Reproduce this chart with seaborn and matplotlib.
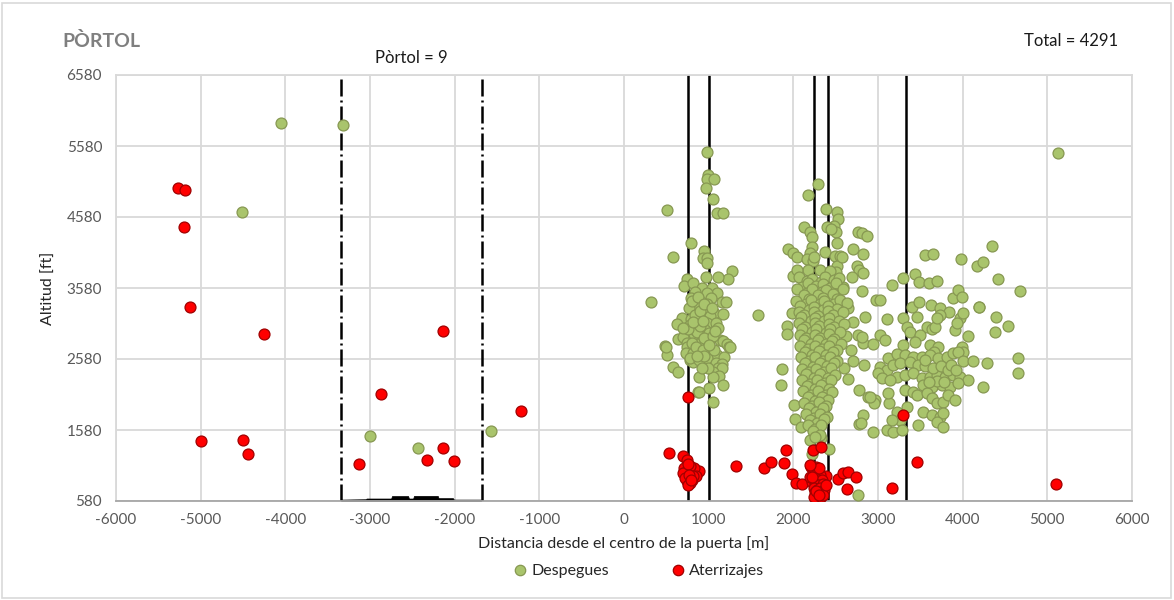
import matplotlib
matplotlib.use("Agg")
import matplotlib.pyplot as plt
import matplotlib.transforms as mtransforms
from matplotlib.lines import Line2D
from matplotlib.patches import Rectangle
import pandas as pd
import seaborn as sns

# ---------------- data ----------------
title = "PÒRTOL"
total_label = "Total = 4291"
zone_label = "Pòrtol = 9"
categories = ["Despegues", "Aterrizajes"]
x_ticks = list(range(-6000, 6001, 1000))
y_ticks = [580, 1580, 2580, 3580, 4580, 5580, 6580]

# take-offs: isolated points
desp_out_x = [-4050, -3320, -4510, -3000, -2430, -1570, 5130, 320, 1580]
desp_out_y = [5900, 5880, 4650, 1500, 1330, 1570, 5480, 3380, 3200]

# take-offs: cluster around 0.75-1.0 km
desp_a_x = [977, 995, 984, 1063, 969, 1055, 1102, 1165, 511, 791, 583, 945, 929, 984, 984, 1272, 1225, 1107,
            969, 748, 709, 819, 917, 1036, 1095, 839, 788, 977, 1028, 1153, 1205, 859, 772, 977, 957, 1067,
            1173, 689, 788, 878, 1016, 622, 780, 977, 1087, 1107, 957, 898, 772, 642, 701, 1004, 831, 1008,
            1134, 1165, 748, 870, 1221, 1244, 484, 511, 748, 988, 859, 732, 819, 929, 1016, 1102, 1185, 977,
            780, 819, 1087, 1153, 1114, 1153, 583, 642, 1047, 1126, 890, 1047, 1165, 878, 1008, 1047, 492,
            1252, 886, 820, 860, 900, 940, 800, 850, 930, 780, 880, 950, 840, 900, 800, 870, 950, 1040, 1050,
            1060, 990, 920, 760, 810, 1000, 1070, 700, 930, 860]
desp_a_y = [5490, 5170, 5114, 5114, 4983, 4832, 4640, 4640, 4677, 4208, 4020, 4100, 3997, 3997, 3927, 3818, 3706, 3738,
            3730, 3710, 3612, 3645, 3583, 3574, 3513, 3527, 3443, 3505, 3434, 3378, 3378, 3340, 3302, 3349, 3245, 3231,
            3213, 3152, 3143, 3129, 3185, 3068, 3058, 3090, 3082, 3012, 2988, 2917, 2903, 2861, 2893, 2950, 2931, 2847,
            2847, 2833, 2809, 2791, 2786, 2753, 2763, 2636, 2753, 2739, 2697, 2660, 2668, 2682, 2668, 2636, 2603, 2589,
            2565, 2541, 2527, 2509, 2448, 2448, 2471, 2400, 2400, 2340, 2330, 2321, 2213, 2119, 2167, 1978, 2753,
            2753, 2110, 3000, 2960, 3050, 2880, 2800, 2750, 2700, 2600, 2560, 2620, 3200, 3250, 3400, 3450, 3350, 3300, 2900,
            2700, 2450, 2450, 3000, 3100, 2780, 2980, 3020, 3120, 2620]

# take-offs: cluster around 2.0-2.6 km (outer points)
desp_b_x = [2288, 2177, 2386, 2512, 2524, 2484, 2504, 2512, 2130, 2197, 2217, 2394, 2445, 2760, 2815, 2866,
            1940, 1992, 2047, 2217, 2197, 2374, 2709, 2827, 2158, 2236, 2492, 2551, 2520, 2504, 2748, 2776,
            2177, 2315, 2433, 2000, 2047, 2689, 2827, 2807, 2976, 1980, 1928, 1928, 1869, 1859, 2008, 2020,
            2091, 2197, 2217, 2331, 2421, 2772, 2827, 2772, 2942, 2886, 2965, 2835, 2760, 2768, 2827, 2945,
            2846, 2807, 2799, 2953, 3102, 3134, 2571, 2248, 2650, 2700, 2620, 2680, 2600, 2650, 2700, 2590]
desp_b_y = [5043, 4888, 4691, 4645, 4546, 4452, 4372, 4217, 4433, 4372, 4302, 4443, 4410, 4372, 4349, 4316,
            4124, 4068, 4011, 4161, 4076, 4090, 4124, 4058, 3983, 3964, 4030, 4030, 3889, 3808, 3889, 3832,
            3832, 3832, 3818, 3748, 3832, 3738, 3795, 3541, 3414, 3223, 3044, 2927, 2435, 2213, 1932, 1730,
            1618, 1439, 1242, 1462, 1308, 2143, 1791, 1660, 1556, 2049, 2002, 2494, 664, 2917, 2800, 2791,
            3166, 2893, 1674, 1955, 1580, 1955, 4020, 4011, 3300, 3100, 2900, 2700, 2450, 2300, 2550, 3600]

# take-offs: dense core of the 2.0-2.6 km cluster
desp_core_x = [2072, 2161, 2219, 2326, 2378, 2477, 2541,
               2101, 2179, 2268, 2349, 2437, 2506,
               2047, 2166, 2226, 2337, 2389, 2496, 2585,
               2124, 2187, 2295, 2346, 2465, 2515,
               2031, 2145, 2207, 2314, 2366, 2485, 2546, 2634,
               2079, 2183, 2249, 2354, 2407, 2515,
               2063, 2126, 2245, 2296, 2405, 2465, 2584,
               2088, 2204, 2256, 2365, 2426, 2534,
               2071, 2136, 2254, 2307, 2424, 2476, 2595,
               2099, 2215, 2267, 2384, 2436, 2554,
               2082, 2146, 2254, 2316, 2425, 2486,
               2122, 2210, 2290, 2380, 2460, 2560,
               2078, 2170, 2250, 2340, 2420, 2510,
               2132, 2220, 2300, 2390, 2470,
               2088, 2180, 2260, 2350, 2430, 2520,
               2142, 2230, 2310, 2400, 2480,
               2098, 2190, 2270, 2360, 2440,
               2152, 2240, 2320, 2410, 2490,
               2108, 2200, 2280, 2370, 2450,
               2162, 2250, 2330, 2420,
               2118, 2210, 2290, 2380, 2460,
               2172, 2260, 2340, 2410,
               2128, 2220, 2300, 2390,
               2182, 2270, 2350,
               2148, 2240, 2320, 2400,
               2202, 2280, 2360,
               2168, 2250, 2330,
               2232, 2310,
               2258]
desp_core_y = [3732, 3682, 3705, 3668, 3738, 3690, 3720,
               3598, 3652, 3612, 3640, 3585, 3645,
               3565, 3510, 3572, 3518, 3556, 3502, 3560,
               3488, 3432, 3475, 3440, 3492, 3428,
               3402, 3352, 3410, 3360, 3395, 3348, 3405, 3362,
               3322, 3276, 3318, 3270, 3325, 3282,
               3240, 3196, 3245, 3192, 3250, 3200, 3238,
               3165, 3112, 3160, 3118, 3158, 3110,
               3082, 3035, 3085, 3038, 3078, 3030, 3075,
               3005, 2955, 3002, 2950, 3008, 2958,
               2925, 2872, 2922, 2878, 2930, 2868,
               2845, 2795, 2842, 2792, 2840, 2798,
               2765, 2715, 2762, 2718, 2768, 2712,
               2685, 2632, 2688, 2638, 2680,
               2605, 2555, 2602, 2552, 2608, 2558,
               2525, 2472, 2528, 2478, 2520,
               2445, 2392, 2442, 2398, 2448,
               2365, 2312, 2368, 2318, 2360,
               2285, 2232, 2288, 2238, 2282,
               2205, 2152, 2208, 2158,
               2125, 2072, 2128, 2078, 2120,
               2045, 1992, 2048, 1998,
               1965, 1912, 1968, 1918,
               1885, 1832, 1888,
               1805, 1752, 1808, 1758,
               1725, 1672, 1728,
               1645, 1592, 1648,
               1565, 1512,
               1482]

# take-offs: cluster around 3-4.7 km
desp_c_x = [4343, 3980, 4165, 4236, 3555, 3646, 4421, 4677, 3299, 3437, 3488, 3606, 3701, 3169, 3024, 3405,
            3488, 3622, 3732, 3838, 3882, 3948, 3988, 3969, 4008, 4196, 4393, 4531, 4381, 3110, 3299, 3457,
            3575, 3634, 3673, 3339, 3378, 3496, 3732, 3693, 3909, 3929, 4067, 3024, 3083, 3291, 3437, 3614,
            3712, 3661, 3988, 4008, 3122, 3221, 3319, 3417, 3516, 3614, 3712, 3811, 3890, 3948, 4008, 4118,
            4283, 4656, 4656, 3024, 3102, 3181, 3260, 3378, 3476, 3555, 3221, 3319, 3417, 3516, 3614, 3693,
            3791, 3890, 3969, 4059, 3535, 3634, 3752, 3850, 3948, 3004, 3043, 3142, 3319, 3417, 3457, 2906,
            3122, 3575, 3634, 3693, 3764, 3830, 3909, 4236, 3535, 3634, 3732, 3771, 3221, 3260, 3161, 3339,
            3181, 3280, 3476, 3693, 3764, 4193, 3560, 3650, 3740, 3830, 3700, 3600, 3780, 3860, 3920]
desp_c_y = [4174, 3988, 3893, 3941, 4044, 4058, 3702, 3541, 3726, 3772, 3659, 3645, 3678, 3621, 3414, 3307,
            3378, 3340, 3293, 3237, 3439, 3551, 3449, 3152, 3223, 3316, 3166, 3048, 2955, 3143, 3152, 3166,
            3035, 2997, 3026, 3035, 2964, 2917, 3199, 3152, 2988, 3082, 2903, 2917, 2847, 2777, 2823, 2777,
            2753, 2683, 2753, 2683, 2589, 2650, 2636, 2612, 2612, 2636, 2589, 2612, 2660, 2683, 2555, 2555,
            2527, 2589, 2378, 2462, 2424, 2494, 2518, 2541, 2494, 2481, 2330, 2354, 2378, 2307, 2330, 2354,
            2330, 2354, 2330, 2284, 2213, 2189, 2213, 2189, 2236, 2378, 2307, 2284, 2143, 2119, 2073, 2049,
            2096, 2096, 2026, 1955, 1978, 2073, 2002, 2189, 1837, 1791, 1767, 1814, 1837, 1720, 1720, 1908,
            1556, 1580, 1650, 1697, 1627, 3307, 2560, 2450, 2480, 2420, 2270, 2250, 2250, 2500, 2420]

# landings
aterr_x = [-5268, -5185, -5197, -5126, -4252, -4996, -4500, -4441, -2870, -3130, -2327, -2138, -2008, -2138,
           -1216, 5102, 3165, 3295, 3460, 756, 1323, 1653, 1736, 1890, 1913, 1984, 2031, 2102, 2232, 2327,
           2268, 2386, 2527, 2586, 2646, 2740, 2634,
           531, 697, 744, 710, 740, 770, 800, 820, 760, 790, 730, 760, 800, 850, 880, 830, 780, 700, 760,
           850, 740, 780, 720, 810, 760, 770, 790,
           2210, 2240, 2280, 2320, 2250, 2290, 2340, 2220, 2260, 2300, 2350, 2240, 2280, 2320, 2360, 2250,
           2290, 2330, 2270, 2310, 2350, 2240, 2380, 2200, 2300, 2197, 2217, 2270, 2300]
aterr_y = [4988, 4960, 4439, 3312, 2932, 1425, 1440, 1242, 2087, 1101, 1157, 1326, 1143, 2975,
           1847, 819, 763, 1791, 1129, 2044, 1073, 1045, 1129, 1115, 1298, 960, 833, 820, 1298, 1340,
           1059, 932, 890, 974, 988, 918, 749,
           1256, 1213, 1160, 1050, 1000, 980, 1020, 960, 920, 900, 940, 870, 870, 960, 1000, 1050, 1070, 980, 1100,
           930, 860, 840, 900, 930, 810, 950, 880,
           1060, 1000, 960, 940, 900, 870, 880, 850, 820, 800, 820, 760, 740, 760, 740, 700,
           680, 700, 640, 620, 660, 640, 800, 920, 1040, 1087, 918, 720, 660]

# reference lines and terrain profile
gate_lines = [-3341, -1676]
runway_lines = [756, 1004, 2243, 2409, 3329]
terrain_x = [-3340, -3050, -3040, -2750, -2740, -2550, -2540, -2490, -2480, -2200, -2190, -2020, -2010, -1690]
terrain_y = [600, 605, 615, 615, 650, 650, 615, 615, 652, 652, 620, 620, 600, 600]

# ---------------- figure ----------------
sns.set_theme(style="white")
plt.rcParams['font.family'] = ['Lato', 'DejaVu Sans']
plt.rcParams['axes.unicode_minus'] = False

W, H = 1174, 600
fig = plt.figure(figsize=(W / 100, H / 100), dpi=100)
fig.patches.append(Rectangle((2 / W, 2 / H), 1 - 5 / W, 1 - 5 / H, transform=fig.transFigure,
                             fill=False, edgecolor='#d9d9d9', lw=1.2))
ax = fig.add_axes([116 / W, 1 - 501 / H, (1132 - 116) / W, (501 - 75) / H])

desp = pd.DataFrame({
    "x": desp_out_x + desp_a_x + desp_b_x + desp_core_x + desp_c_x,
    "y": desp_out_y + desp_a_y + desp_b_y + desp_core_y + desp_c_y,
})
aterr = pd.DataFrame({"x": aterr_x, "y": aterr_y})

green_face, green_edge = '#a9c46c', '#879852'
red_face, red_edge = '#ff0000', '#a00000'

for gx in gate_lines:
    ln = ax.axvline(gx, color='black', lw=1.8, zorder=2)
    ln.set_dashes([6.8, 1.6, 0.8, 1.6])
for rx in runway_lines:
    ax.axvline(rx, color='black', lw=1.8, zorder=2)

ax.fill_between(terrain_x, 580, terrain_y, color='black', lw=0.5, zorder=2)

sns.scatterplot(data=desp, x="x", y="y", ax=ax, s=62, color=green_face, edgecolor=green_edge,
                linewidth=0.9, zorder=3, legend=False)
sns.scatterplot(data=aterr, x="x", y="y", ax=ax, s=62, color=red_face, edgecolor=red_edge,
                linewidth=0.9, zorder=4, legend=False)

ax.set_xlim(-6000, 6000)
ax.set_ylim(580, 6580)
ax.set_xticks(x_ticks)
ax.set_yticks(y_ticks)
ax.grid(True, color='#d9d9d9', lw=1.3)
ax.set_axisbelow(True)
for side in ['left', 'right', 'top']:
    ax.spines[side].set_color('#d9d9d9')
    ax.spines[side].set_linewidth(1.3)
ax.spines['bottom'].set_color('#a6a6a6')
ax.spines['bottom'].set_linewidth(1.3)
ax.tick_params(axis='x', direction='out', length=5, width=1.1, color='#a6a6a6',
               labelsize=11, labelcolor='#595959', pad=4)
ax.tick_params(axis='y', length=0, labelsize=11, labelcolor='#595959', pad=10)

ax.set_xlabel("Distancia desde el centro de la puerta [m]", fontsize=11.5, color='#262626', labelpad=6)
ax.set_ylabel("Altitud [ft]", fontsize=11.5, color='#262626', labelpad=8)

fig.text(62 / W, 1 - 41 / H, title, fontsize=14, fontweight='bold', color='#7f7f7f', va='center', ha='left')
fig.text(1118 / W, 1 - 41 / H, total_label, fontsize=12, color='#1a1a1a', va='center', ha='right')
trans = mtransforms.blended_transform_factory(ax.transData, fig.transFigure)
ax.text(sum(gate_lines) / 2, 1 - 58 / H, zone_label, transform=trans, fontsize=12, color='#1a1a1a',
        ha='center', va='center')

handles = [Line2D([], [], ls='none', marker='o', markersize=7.5, markerfacecolor=green_face,
                  markeredgecolor=green_edge, markeredgewidth=0.9),
           Line2D([], [], ls='none', marker='o', markersize=7.5, markerfacecolor=red_face,
                  markeredgecolor=red_edge, markeredgewidth=0.9)]
fig.legend(handles, categories, loc='center', bbox_to_anchor=(638 / W, 1 - 571 / H), ncol=2,
           frameon=False, fontsize=11.5, handletextpad=0.2, columnspacing=3.8, handlelength=1.0,
           labelcolor='#262626')

fig.savefig("out.png", dpi=100)
